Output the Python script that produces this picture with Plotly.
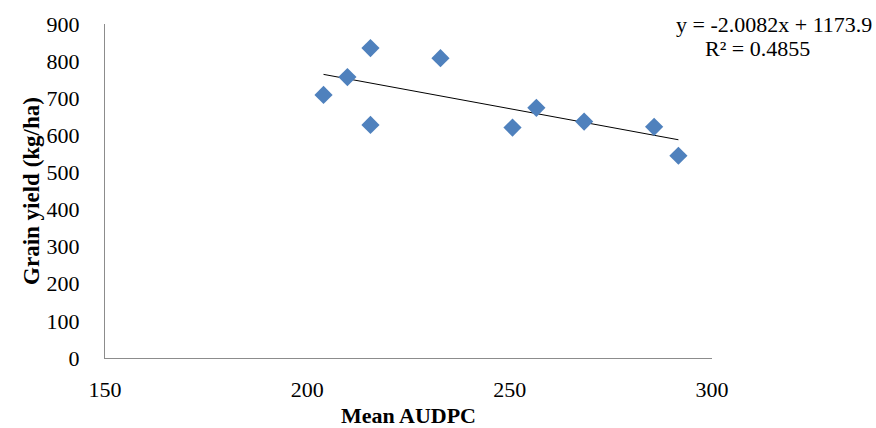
import plotly.graph_objects as go

audpc = [204.0, 209.9, 215.6, 215.6, 232.9, 250.7, 256.6, 268.4, 285.7, 291.7]
grain_yield = [709, 757, 835, 628, 808, 621, 674, 637, 623, 545]
slope = -2.0082
intercept = 1173.9
r2 = 0.4855
x_ticks = [150, 200, 250, 300]
y_ticks = [0, 100, 200, 300, 400, 500, 600, 700, 800, 900]

xmin, xmax = min(audpc), max(audpc)
trend_x = [xmin, xmax]
trend_y = [slope * v + intercept for v in trend_x]

font_fam = "Liberation Serif, Times New Roman, serif"

fig = go.Figure()
fig.add_trace(go.Scatter(x=trend_x, y=trend_y, mode="lines",
                         line=dict(color="black", width=1), hoverinfo="skip"))
fig.add_trace(go.Scatter(x=audpc, y=grain_yield, mode="markers",
                         marker=dict(symbol="diamond", size=14, color="#4F81BD",
                                     line=dict(width=0))))

fig.update_layout(
    width=876, height=428,
    margin=dict(l=105, r=164, t=24, b=70, autoexpand=False),
    paper_bgcolor="white", plot_bgcolor="white",
    showlegend=False,
    font=dict(family=font_fam, color="black", size=22),
    xaxis=dict(range=[150, 300], tickvals=x_ticks, showgrid=False, zeroline=False,
               showline=True, linecolor="#8c8c8c", linewidth=1, ticks="",
               ticklabelstandoff=12, automargin=False,
               tickfont=dict(size=22, family=font_fam),
               title=dict(text="<b>Mean AUDPC</b>", font=dict(size=22, family=font_fam), standoff=10)),
    yaxis=dict(range=[0, 900], tickvals=y_ticks, showgrid=False, zeroline=False,
               showline=True, linecolor="#8c8c8c", linewidth=1, ticks="",
               ticklabelstandoff=20, automargin=False,
               tickfont=dict(size=22, family=font_fam),
               title=dict(text="<b>Grain yield (kg/ha)</b>", font=dict(size=23, family=font_fam), standoff=0)),
    annotations=[
        dict(xref="paper", yref="paper", x=(874 - 105) / 607, y=(358 - 25) / 334,
             xanchor="right", yanchor="middle", showarrow=False,
             text=f"y = {slope:.4f}x + {intercept:.1f}", font=dict(size=22, family=font_fam)),
        dict(xref="paper", yref="paper", x=(757 - 105) / 607, y=(358 - 49) / 334,
             xanchor="center", yanchor="middle", showarrow=False,
             text=f"R² = {r2:.4f}", font=dict(size=22, family=font_fam)),
    ],
)

fig.write_html("out.html", config={"displayModeBar": False},
               post_script="document.body.style.margin='0';document.body.style.overflow='hidden';")
